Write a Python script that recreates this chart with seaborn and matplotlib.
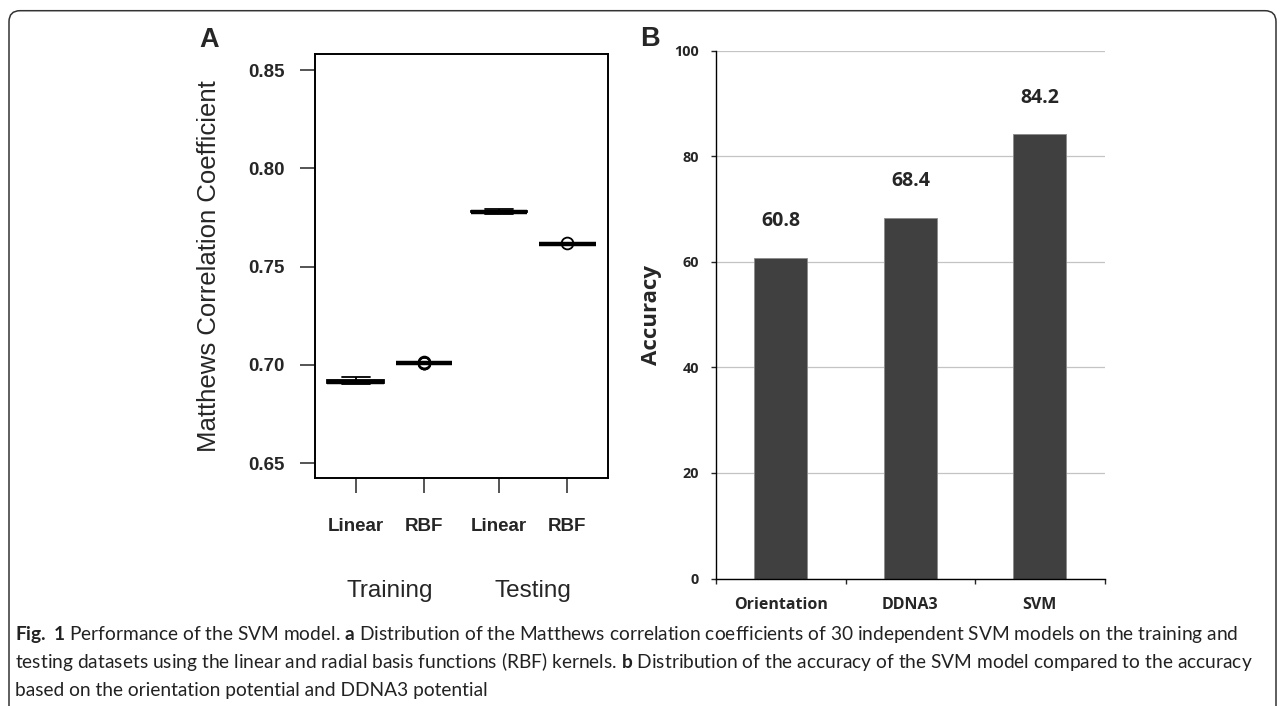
import numpy as np
import pandas as pd
import matplotlib
matplotlib.use("Agg")
import matplotlib.pyplot as plt
import seaborn as sns
from matplotlib.patches import FancyBboxPatch
from matplotlib.transforms import IdentityTransform
import matplotlib.transforms as mtransforms

# ---------------- data ----------------
kernels = ["Linear", "RBF", "Linear", "RBF"]
groups = ["Training", "Testing"]

train_linear = [0.6902, 0.6903, 0.6903, 0.6904, 0.6904, 0.6905, 0.6905, 0.6905, 0.6906, 0.6907,
                0.6908, 0.6909, 0.6910, 0.6911, 0.6912, 0.6913, 0.6914, 0.6915, 0.6916, 0.6917,
                0.6918, 0.6920, 0.6922, 0.6922, 0.6923, 0.6924, 0.6926, 0.6929, 0.6934, 0.6939]
train_rbf = [0.7008, 0.7009, 0.7010, 0.7010, 0.7010, 0.7010, 0.7010, 0.7010, 0.7010, 0.7010,
             0.7010, 0.7010, 0.7010, 0.7010, 0.7010, 0.7010, 0.7010, 0.7010, 0.7010, 0.7010,
             0.7010, 0.7010, 0.7010, 0.7010, 0.7010, 0.7010, 0.7010, 0.7010, 0.7011, 0.7012]
test_linear = [0.7769, 0.7771, 0.7773, 0.7774, 0.7775, 0.7775, 0.7776, 0.7776, 0.7777, 0.7777,
               0.7778, 0.7778, 0.7779, 0.7779, 0.7780, 0.7780, 0.7781, 0.7781, 0.7782, 0.7782,
               0.7783, 0.7783, 0.7784, 0.7784, 0.7785, 0.7786, 0.7787, 0.7788, 0.7790, 0.7792]
test_rbf = [0.7614, 0.7614, 0.7614, 0.7614, 0.7614, 0.7614, 0.7614, 0.7614, 0.7614, 0.7614,
            0.7614, 0.7614, 0.7614, 0.7614, 0.7614, 0.7614, 0.7614, 0.7614, 0.7614, 0.7614,
            0.7614, 0.7614, 0.7614, 0.7614, 0.7614, 0.7614, 0.7614, 0.7614, 0.7614, 0.7620]
mcc_yticks = [0.65, 0.70, 0.75, 0.80, 0.85]

methods = ["Orientation", "DDNA3", "SVM"]
accuracy = [60.8, 68.4, 84.2]
acc_yticks = [0, 20, 40, 60, 80, 100]

caption_lines = [
    r"$\mathbf{Fig.}$ $\mathbf{1}$ Performance of the SVM model. $\mathbf{a}$ Distribution of the Matthews correlation coefficients of 30 independent SVM models on the training and",
    r"testing datasets using the linear and radial basis functions (RBF) kernels. $\mathbf{b}$ Distribution of the accuracy of the SVM model compared to the accuracy",
    r"based on the orientation potential and DDNA3 potential",
]

# layout (not data)
box_positions = [1.0, 2.0, 3.1, 4.1]
group_centers = [1.5, 3.6]

# ---------------- style ----------------
sns.set_style("ticks")
plt.rcParams["font.family"] = ["Liberation Sans", "DejaVu Sans"]
plt.rcParams["mathtext.fontset"] = "custom"
plt.rcParams["mathtext.rm"] = "Lato"
plt.rcParams["mathtext.bf"] = "Lato:bold"
plt.rcParams["mathtext.it"] = "Lato:italic"

W, H = 1282, 706
fig = plt.figure(figsize=(W / 100, H / 100), dpi=100)
fig.patch.set_facecolor("white")

def frac_rect(left, top, right, bottom):
    return [left / W, 1 - bottom / H, (right - left) / W, (bottom - top) / H]

# ---------------- Panel A ----------------
axA = fig.add_axes(frac_rect(315, 54.3, 607.7, 478.4))
series = [train_linear, train_rbf, test_linear, test_rbf]
dfA = pd.concat([pd.DataFrame({"pos": p, "mcc": v}) for p, v in zip(box_positions, series)],
                ignore_index=True)
sns.boxplot(data=dfA, x="pos", y="mcc", native_scale=True, orient="x", width=0.83,
            color="white", linecolor="black", linewidth=1.3, saturation=1,
            medianprops=dict(linewidth=3.2, color="black"),
            flierprops=dict(marker="o", markersize=8.5, markerfacecolor="none",
                            markeredgecolor="black", markeredgewidth=1.3),
            ax=axA)
axA.set_xlim(0.404, 4.69)
axA.set_ylim(0.6422, 0.858)
axA.set_yticks(mcc_yticks)
axA.set_yticklabels([f"{t:.2f}" for t in mcc_yticks])
axA.set_xticks(box_positions)
axA.set_xticklabels(kernels)
axA.set_xlabel("")
axA.set_ylabel("Matthews Correlation Coefficient", fontsize=18.5, va="center")
axA.yaxis.set_label_coords(-0.362, 0.5)
for s in axA.spines.values():
    s.set_visible(True)
    s.set_linewidth(1.4)
    s.set_color("black")
axA.tick_params(axis="y", direction="out", length=10.8, width=1.1, labelsize=13.5, pad=11)
axA.tick_params(axis="x", direction="out", length=10.8, width=1.1, labelsize=13.5, pad=18)
for lab in axA.get_xticklabels() + axA.get_yticklabels():
    lab.set_fontweight("bold")
tr = mtransforms.blended_transform_factory(axA.transData, axA.transAxes)
for c, g in zip(group_centers, groups):
    axA.text(c, -0.279, g, transform=tr, ha="center", va="baseline", fontsize=17.5)

fig.text(209 / W, 1 - 40 / H, "A", fontsize=19.5, fontweight="bold", ha="center", va="center")

# ---------------- Panel B ----------------
axB = fig.add_axes(frac_rect(716, 50.9, 1104.7, 578.5))
sns.barplot(x=methods, y=accuracy, color="#404040", saturation=1, width=0.41,
            edgecolor="#8a8a8a", linewidth=0.6, errorbar=None, ax=axB)
axB.set_xlim(-0.5, 2.5)
axB.set_ylim(0, 100)
axB.set_yticks(acc_yticks)
axB.yaxis.grid(True, color="#c4c4c4", linewidth=0.9)
axB.set_axisbelow(True)
for side in ["top", "right"]:
    axB.spines[side].set_visible(False)
for side in ["left", "bottom"]:
    axB.spines[side].set_linewidth(1.0)
    axB.spines[side].set_color("black")
axB.set_xticks([-0.5, 0.5, 1.5, 2.5], minor=True)
axB.tick_params(axis="x", which="major", length=0, pad=13)
axB.tick_params(axis="x", which="minor", direction="out", length=3.6, width=1.0)
axB.tick_params(axis="y", direction="out", length=3.6, width=1.0, pad=8.6)
for lab in axB.get_xticklabels():
    lab.set_family("Open Sans")
    lab.set_fontweight("bold")
    lab.set_fontsize(11.5)
for lab in axB.get_yticklabels():
    lab.set_family("Open Sans")
    lab.set_fontweight("bold")
    lab.set_fontsize(10.4)
for cont in axB.containers:
    axB.bar_label(cont, fmt="%.1f", padding=19, fontsize=14, fontweight="bold",
                  family="Open Sans")
axB.set_xlabel("")
axB.set_ylabel("Accuracy", fontsize=16, fontweight="bold", family="Open Sans", va="center")
axB.yaxis.set_label_coords(-0.167, 0.5)

fig.text(650 / W, 1 - 39 / H, "B", fontsize=19.5, fontweight="bold", ha="center", va="center")

# ---------------- Caption & frame ----------------
baselines = [640, 668, 696]
for line, yb in zip(caption_lines, baselines):
    fig.text(15 / W, 1 - yb / H, line, fontsize=13.75, family="Lato", color="#222222",
             ha="left", va="baseline")

frame = FancyBboxPatch((9, -30), 1267, 695.3 + 30,
                       boxstyle="round,pad=0,rounding_size=11",
                       transform=IdentityTransform(), fill=False,
                       edgecolor="#333333", linewidth=1.1)
fig.add_artist(frame)

fig.savefig("out.png", dpi=100)
